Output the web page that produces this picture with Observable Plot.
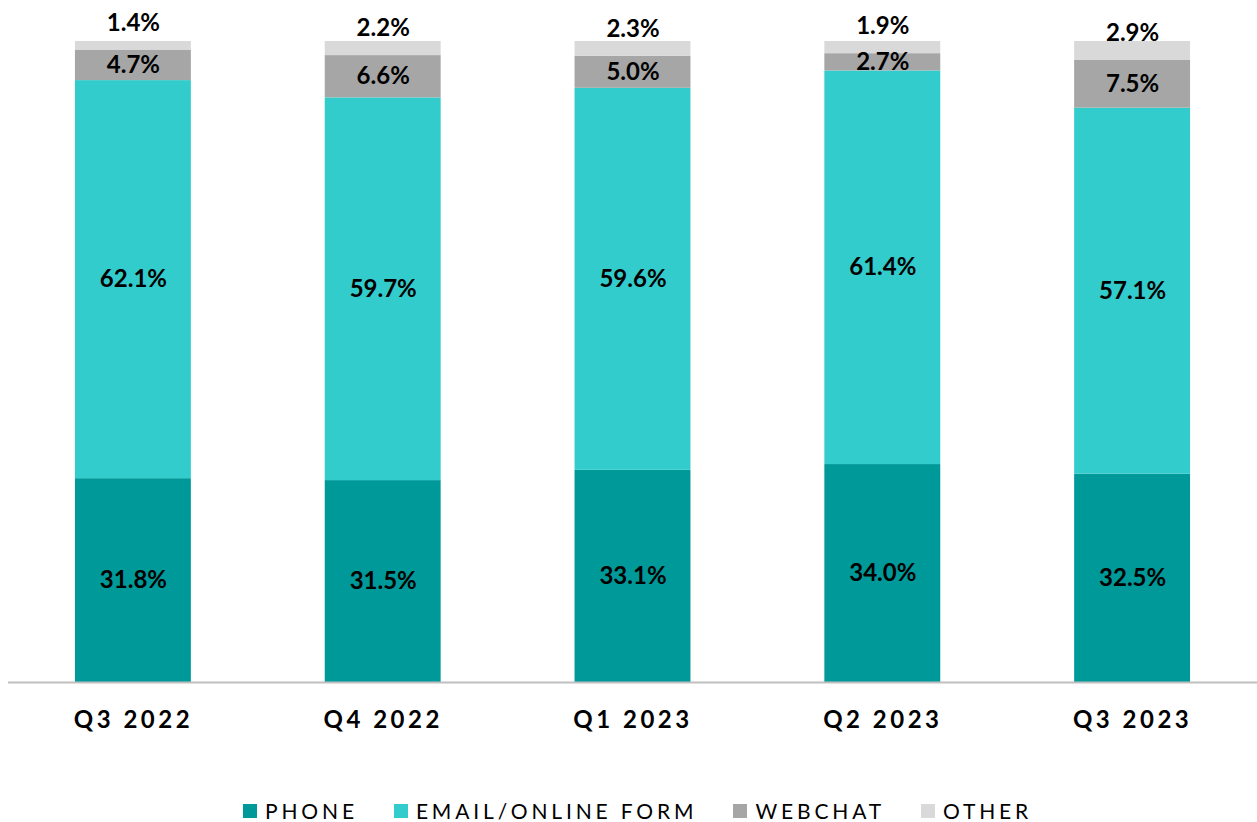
<!DOCTYPE html>
<html>
<head>
<meta charset="utf-8">
<script src="https://cdn.jsdelivr.net/npm/d3@7"></script>
<script src="https://cdn.jsdelivr.net/npm/@observablehq/plot@0.6"></script>
<style>
  html, body { margin: 0; padding: 0; background: #fff; }
  body { width: 1257px; height: 822px; overflow: hidden; font-family: Lato, "Open Sans", sans-serif; }
  .chart g[aria-label="x-axis tick label"] text { letter-spacing: 3.5px; }
  .legend { display: flex; justify-content: flex-start; align-items: center; margin-top: 18px; padding-left: 243px; font-size: 21px; line-height: 25px; letter-spacing: 3.85px; color: #000; }
  .legend .item { display: flex; align-items: center; margin-right: 36px; }
  .legend .sw { width: 14px; height: 14px; margin-right: 8px; }
</style>
</head>
<body>
<div id="chart"></div>
<script>
const quarters = ["Q3 2022", "Q4 2022", "Q1 2023", "Q2 2023", "Q3 2023"];
const seriesNames = ["PHONE", "EMAIL/ONLINE FORM", "WEBCHAT", "OTHER"];
const phone   = [31.8, 31.5, 33.1, 34.0, 32.5];
const email   = [62.1, 59.7, 59.6, 61.4, 57.1];
const webchat = [4.7, 6.6, 5.0, 2.7, 7.5];
const other   = [1.4, 2.2, 2.3, 1.9, 2.9];
const colors  = ["#009999", "#33CCCC", "#A6A6A6", "#D9D9D9"];

const seriesValues = [phone, email, webchat, other];
const rows = [];
seriesValues.forEach((vals, si) => {
  vals.forEach((v, qi) => rows.push({quarter: quarters[qi], series: seriesNames[si], value: v}));
});
const inside = rows.filter(d => d.series !== "OTHER");
const otherRows = quarters.map((q, i) => ({quarter: q, value: other[i], base: phone[i] + email[i] + webchat[i]}));

const fmt = v => v.toFixed(1) + "%";

const chart = Plot.plot({
  width: 1257,
  height: 780,
  marginTop: 41,
  marginBottom: 98,
  marginLeft: 8,
  marginRight: 0,
  className: "chart",
  style: {fontFamily: "Lato, 'Open Sans', sans-serif", background: "#fff", overflow: "visible"},
  x: {domain: quarters, paddingInner: 0.536, paddingOuter: 0.268, round: false, label: null},
  y: {domain: [0, 100], axis: null},
  color: {domain: seriesNames, range: colors},
  marks: [
    Plot.barY(rows, Plot.stackY({order: seriesNames, x: "quarter", y: "value", fill: "series"})),
    Plot.ruleY([0], {stroke: "#BFBFBF", strokeWidth: 2}),
    Plot.text(inside, Plot.stackY({order: seriesNames, x: "quarter", y: "value", z: "series", text: d => fmt(d.value), fill: "#000", fontSize: 24, fontWeight: "bold"})),
    Plot.text(otherRows, {x: "quarter", y: "base", text: d => fmt(d.value), dy: -27, fill: "#000", fontSize: 24, fontWeight: "bold"}),
    Plot.axisX({tickSize: 0, tickPadding: 28, fontSize: 24, fontWeight: "bold", label: null, color: "#000"})
  ]
});
document.getElementById("chart").appendChild(chart);

const legend = document.createElement("div");
legend.className = "legend";
seriesNames.forEach((name, i) => {
  const item = document.createElement("div");
  item.className = "item";
  const sw = document.createElement("span");
  sw.className = "sw";
  sw.style.background = colors[i];
  const label = document.createElement("span");
  label.textContent = name;
  item.appendChild(sw);
  item.appendChild(label);
  legend.appendChild(item);
});
document.body.appendChild(legend);
</script>
</body>
</html>
